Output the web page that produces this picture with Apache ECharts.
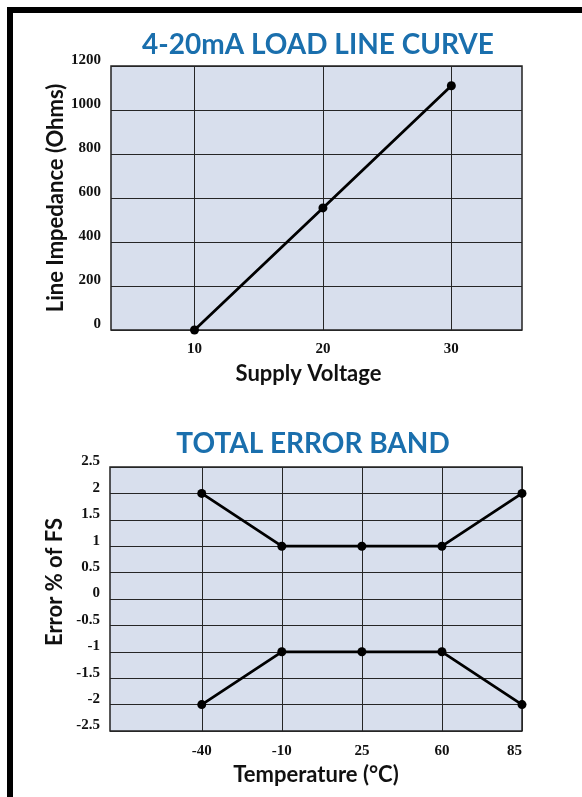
<!DOCTYPE html>
<html>
<head>
<meta charset="utf-8">
<script src="https://cdn.jsdelivr.net/npm/echarts@6/dist/echarts.min.js"></script>
<style>
  html, body { margin: 0; padding: 0; background: #fff; }
  #chart { width: 582px; height: 797px; }
</style>
</head>
<body>
<div id="chart"></div>
<script>
// load line chart
const voltage = [10, 20, 30];
const impedance = [0, 555, 1110];
const voltageTicks = [10, 20, 30];

// error band chart (x = index into tempLabels)
const tempLabels = ['-40', '-10', '25', '60', '85'];
const errorUpper = [2, 1, 1, 1, 2];
const errorLower = [-2, -1, -1, -1, -2];

const chart = echarts.init(document.getElementById('chart'), null, { renderer: 'canvas' });

const titleFont = { fontFamily: 'Lato', fontWeight: 'bold', fontSize: 28, color: '#1a6fad' };
const nameFont = { fontFamily: 'Lato', fontWeight: 'bold', fontSize: 22, color: '#111' };
const tickFont = { fontFamily: 'Liberation Serif', fontWeight: 'bold', fontSize: 15, color: '#111' };
const gridLine = { lineStyle: { color: '#262626', width: 1 } };

const option = {
  animation: false,
  backgroundColor: '#fff',
  graphic: [
    { type: 'rect', shape: { x: 7, y: 7, width: 575, height: 6 }, style: { fill: '#000' } },
    { type: 'rect', shape: { x: 7, y: 7, width: 6, height: 790 }, style: { fill: '#000' } }
  ],
  title: [
    { text: '4-20mA LOAD LINE CURVE', left: 318, top: 45, textAlign: 'center', textVerticalAlign: 'middle', padding: 0, textStyle: titleFont },
    { text: 'TOTAL ERROR BAND', left: 313, top: 444, textAlign: 'center', textVerticalAlign: 'middle', padding: 0, textStyle: titleFont }
  ],
  grid: [
    { left: 111, top: 66, width: 411, height: 264, show: true, backgroundColor: '#d8dfed', borderColor: '#222', borderWidth: 1.5 },
    { left: 110, top: 467, width: 412, height: 264, show: true, backgroundColor: '#d8dfed', borderColor: '#222', borderWidth: 1.5 }
  ],
  xAxis: [
    {
      gridIndex: 0, type: 'value', min: 3.5, max: 35.5,
      name: 'Supply Voltage', nameLocation: 'middle', nameGap: 33, nameMoveOverlap: false,
      nameTextStyle: Object.assign({ padding: [0, 16, 0, 0] }, nameFont),
      axisLine: { show: false },
      axisTick: { show: false, customValues: voltageTicks },
      axisLabel: { customValues: voltageTicks, margin: 12, ...tickFont },
      splitLine: { show: true, ...gridLine }
    },
    {
      gridIndex: 1, type: 'value', min: -1.146, max: 4,
      name: 'Temperature (°C)', nameLocation: 'middle', nameGap: 33, nameMoveOverlap: false,
      nameTextStyle: nameFont,
      axisLine: { show: false },
      axisTick: { show: false, customValues: [0, 1, 2, 3, 4] },
      axisLabel: {
        customValues: [0, 1, 2, 3, 4], margin: 13, alignMaxLabel: 'right',
        formatter: v => tempLabels[Math.round(v)], ...tickFont
      },
      splitLine: { show: true, ...gridLine }
    }
  ],
  yAxis: [
    {
      gridIndex: 0, type: 'value', min: 0, max: 1200, interval: 200,
      name: 'Line Impedance (Ohms)', nameLocation: 'middle', nameGap: 44, nameMoveOverlap: false,
      nameTextStyle: nameFont,
      axisLine: { show: false }, axisTick: { show: false },
      axisLabel: { margin: 10, verticalAlign: 'bottom', lineHeight: 11, formatter: v => String(v), ...tickFont },
      splitLine: { show: true, ...gridLine }
    },
    {
      gridIndex: 1, type: 'value', min: -2.5, max: 2.5, interval: 0.5,
      name: 'Error % of FS', nameLocation: 'middle', nameGap: 44, nameMoveOverlap: false,
      nameTextStyle: Object.assign({ padding: [0, 0, 0, 34] }, nameFont),
      axisLine: { show: false }, axisTick: { show: false },
      axisLabel: { margin: 10, verticalAlign: 'bottom', lineHeight: 11, formatter: v => String(v), ...tickFont },
      splitLine: { show: true, ...gridLine }
    }
  ],
  series: [
    {
      type: 'line', xAxisIndex: 0, yAxisIndex: 0,
      data: voltage.map((v, i) => [v, impedance[i]]),
      symbol: 'circle', symbolSize: 9,
      itemStyle: { color: '#000' }, lineStyle: { color: '#000', width: 2.8 }
    },
    {
      type: 'line', xAxisIndex: 1, yAxisIndex: 1,
      data: errorUpper.map((v, i) => [i, v]),
      symbol: 'circle', symbolSize: 9,
      itemStyle: { color: '#000' }, lineStyle: { color: '#000', width: 2.8 }
    },
    {
      type: 'line', xAxisIndex: 1, yAxisIndex: 1,
      data: errorLower.map((v, i) => [i, v]),
      symbol: 'circle', symbolSize: 9,
      itemStyle: { color: '#000' }, lineStyle: { color: '#000', width: 2.8 }
    }
  ]
};

chart.setOption(option);
</script>
</body>
</html>
